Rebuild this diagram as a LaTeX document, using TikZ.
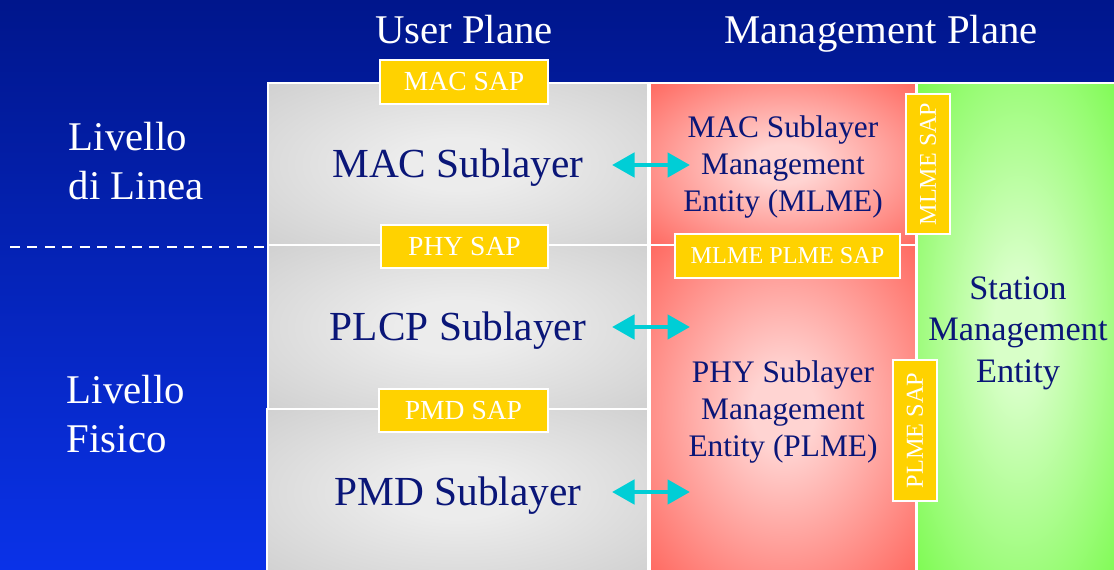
\documentclass[tikz,border=0pt]{standalone}
\usepackage{fontspec}
\setmainfont{Liberation Serif}
\usetikzlibrary{arrows.meta}

\definecolor{bgtop}{RGB}{0,22,140}
\definecolor{bgbottom}{RGB}{10,50,232}
\definecolor{ink}{RGB}{10,22,120}
\definecolor{sapyellow}{RGB}{255,210,0}
\definecolor{linkcyan}{RGB}{0,206,214}
\definecolor{grayout}{RGB}{204,204,204}
\definecolor{grayin}{RGB}{236,236,236}
\definecolor{redout}{RGB}{255,103,94}
\definecolor{redin}{RGB}{255,212,210}
\definecolor{greenout}{RGB}{118,250,72}
\definecolor{greenin}{RGB}{216,255,200}

\pgfdeclareradialshading{grayglow}{\pgfpoint{0bp}{0bp}}{color(0bp)=(grayin); color(8bp)=(grayin); color(40bp)=(grayout); color(50bp)=(grayout)}
\pgfdeclareradialshading{redglow}{\pgfpoint{0bp}{0bp}}{color(0bp)=(redin); color(6bp)=(redin); color(36bp)=(redout); color(50bp)=(redout)}
\pgfdeclareradialshading{greenglow}{\pgfpoint{0bp}{0bp}}{color(0bp)=(greenin); color(6bp)=(greenin); color(38bp)=(greenout); color(50bp)=(greenout)}

\newcommand{\px}{0.025cm}

\tikzset{
  layerbox/.style={draw=white, line width=0.8pt, shading=#1},
  sap/.style={draw=white, line width=1pt, fill=sapyellow, text=white, inner sep=0pt},
  plane/.style={text=white, font=\fontsize{29}{35}\selectfont},
  sublayer/.style={text=ink, font=\fontsize{29.4}{35}\selectfont},
  entity/.style={text=ink, align=center, font=\fontsize{22.3}{26.3}\selectfont},
  link/.style={linkcyan, line width=3.5pt, {Triangle[length=16pt,width=17pt]}-{Triangle[length=16pt,width=17pt]}},
}

\begin{document}
\begin{tikzpicture}[x=\px, y=-\px]
  \useasboundingbox (0,0) rectangle (1114,570);
  \shade[top color=bgtop, bottom color=bgbottom] (0,0) rectangle (1114,570);

  % layer boxes
  \path[layerbox=grayglow] (268,83) rectangle (648,245);
  \path[layerbox=grayglow] (268,245) rectangle (648,409);
  \path[layerbox=grayglow] (267,409) rectangle (648,575);
  \path[layerbox=redglow] (650,83) rectangle (916,245);
  \path[layerbox=redglow] (650,245) rectangle (916,575);
  \path[layerbox=greenglow] (917,83) rectangle (1120,575);

  \draw[white, line width=2pt, dash pattern=on 7.1pt off 5.3pt] (10,247) -- (268,247);

  % planes and levels
  \node[plane, anchor=base] (user) at (464,44) {User Plane};
  \node[plane, anchor=base] (mgmt) at (881,44) {Management Plane};
  \node[plane, anchor=west, align=left] (linea) at (64,161) {Livello\\di Linea};
  \node[plane, anchor=west, align=left] (fisico) at (62,414) {Livello\\Fisico};

  % sublayers
  \node[sublayer, anchor=base] (mac) at (458,178) {MAC Sublayer};
  \node[sublayer, anchor=base] (plcp) at (458,341) {PLCP Sublayer};
  \node[sublayer, anchor=base] (pmd) at (458,505) {PMD Sublayer};

  \node[entity] (mlme) at (783,167) {MAC Sublayer\\Management\\Entity (MLME)};
  \node[entity] (plme) at (783,412) {PHY Sublayer\\Management\\Entity (PLME)};
  \node[text=ink, align=center, font=\fontsize{24.4}{29.5}\selectfont] (sme) at (1018,333) {Station\\Management\\Entity};

  % service access points
  \node[sap, minimum width=168*\px, minimum height=44*\px, font=\fontsize{19.6}{22}\selectfont] (macsap) at (464,82) {MAC SAP};
  \node[sap, minimum width=167*\px, minimum height=43*\px, font=\fontsize{19.6}{22}\selectfont] (physap) at (464.5,246.5) {PHY SAP};
  \node[sap, minimum width=169*\px, minimum height=43*\px, font=\fontsize{19.6}{22}\selectfont] (pmdsap) at (463.5,410.5) {PMD SAP};
  \node[sap, minimum width=225*\px, minimum height=44*\px, font=\fontsize{17.2}{20}\selectfont] (mpsap) at (787.5,256) {MLME PLME SAP};
  \node[sap, rotate=90, minimum width=140*\px, minimum height=44*\px, font=\fontsize{17.1}{20}\selectfont] (mlmesap) at (928,164) {MLME SAP};
  \node[sap, rotate=90, minimum width=141*\px, minimum height=44*\px, font=\fontsize{17.3}{20}\selectfont] (plmesap) at (915,430.5) {PLME SAP};

  % links
  \coordinate (macL) at (612,165);
  \coordinate (macR) at (690,165);
  \coordinate (plcpL) at (612,327);
  \coordinate (plcpR) at (690,327);
  \coordinate (pmdL) at (612,492);
  \coordinate (pmdR) at (690,492);
  \draw[link] (macL) -- (macR);
  \draw[link] (plcpL) -- (plcpR);
  \draw[link] (pmdL) -- (pmdR);
\end{tikzpicture}
\end{document}
